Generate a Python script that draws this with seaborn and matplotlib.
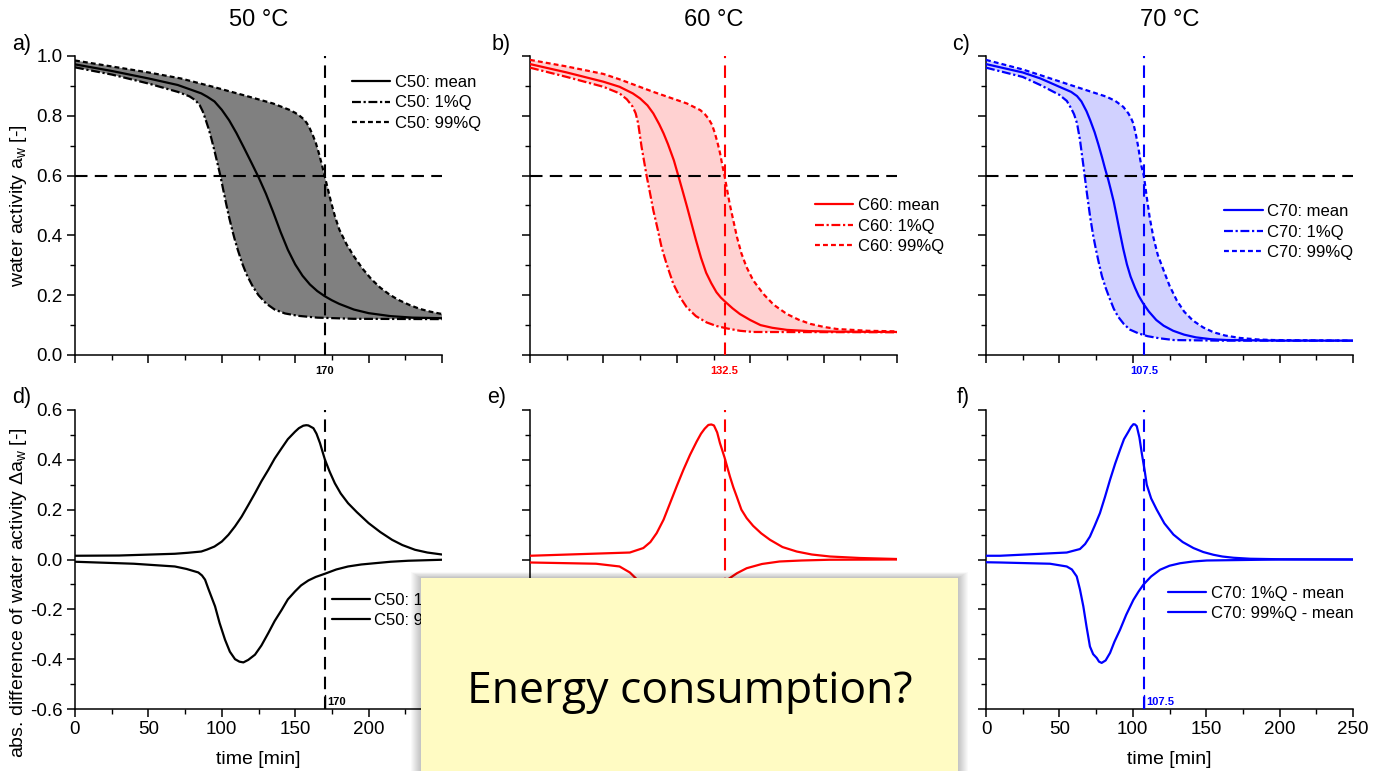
import numpy as np
import matplotlib
matplotlib.use("Agg")
import matplotlib.pyplot as plt
from matplotlib.ticker import MultipleLocator, NullFormatter
from matplotlib.patches import Rectangle
from matplotlib.lines import Line2D
import seaborn as sns

# ---------------- water activity, 50 °C ----------------
t50_mean = [0, 25, 50, 70, 86, 90, 95, 100, 105, 110, 115, 120, 125, 130, 135, 140, 145, 150, 155, 160, 165, 170, 175, 180, 190, 200, 215, 230, 250]
a50_mean = [0.972, 0.950, 0.925, 0.903, 0.875, 0.864, 0.848, 0.820, 0.785, 0.742, 0.694, 0.645, 0.595, 0.540, 0.478, 0.412, 0.352, 0.303, 0.265, 0.236, 0.214, 0.197, 0.183, 0.171, 0.152, 0.140, 0.130, 0.125, 0.123]
t50_q01 = [0, 25, 50, 70, 78, 82, 85, 87, 89, 91, 93, 95, 97, 99, 101, 103, 105, 107, 109, 111, 114, 117, 121, 125, 130, 136, 143, 152, 165, 190, 250]
a50_q01 = [0.962, 0.938, 0.908, 0.880, 0.865, 0.852, 0.835, 0.815, 0.787, 0.757, 0.722, 0.683, 0.642, 0.600, 0.552, 0.505, 0.460, 0.420, 0.383, 0.350, 0.305, 0.268, 0.230, 0.200, 0.173, 0.152, 0.139, 0.131, 0.125, 0.121, 0.120]
t50_q99 = [0, 25, 50, 72, 94, 117, 135, 146, 150, 153, 156, 158, 160, 162, 164, 166, 168, 170, 172, 174.5, 177, 180, 185, 190, 196, 202, 208, 214, 220, 228, 235, 242, 250]
a50_q99 = [0.985, 0.965, 0.945, 0.925, 0.897, 0.866, 0.841, 0.820, 0.810, 0.800, 0.788, 0.775, 0.757, 0.735, 0.710, 0.677, 0.640, 0.600, 0.560, 0.510, 0.465, 0.420, 0.370, 0.330, 0.288, 0.253, 0.225, 0.203, 0.185, 0.167, 0.154, 0.145, 0.137]

# ---------------- water activity, 60 °C ----------------
t60_mean = [0, 25, 50, 61, 70, 75, 80, 84, 88, 91, 94, 98, 101, 104, 107, 110, 113, 116.5, 120, 123.5, 127, 130, 133, 138, 143, 150, 157, 165, 175, 190, 210, 250]
a60_mean = [0.973, 0.945, 0.914, 0.897, 0.875, 0.858, 0.835, 0.808, 0.772, 0.741, 0.705, 0.651, 0.600, 0.548, 0.495, 0.440, 0.385, 0.325, 0.275, 0.240, 0.210, 0.192, 0.178, 0.156, 0.137, 0.117, 0.100, 0.091, 0.084, 0.080, 0.078, 0.077]
t60_q01 = [0, 25, 50, 61, 66, 70, 72, 73.7, 76, 78, 79.4, 81.5, 84, 87, 89.6, 93, 97.6, 102, 106.7, 113, 120.3, 127, 134, 143, 152, 250]
a60_q01 = [0.961, 0.930, 0.897, 0.875, 0.855, 0.830, 0.808, 0.774, 0.696, 0.640, 0.600, 0.548, 0.484, 0.420, 0.361, 0.305, 0.238, 0.195, 0.160, 0.130, 0.109, 0.097, 0.089, 0.081, 0.077, 0.076]
t60_q99 = [0, 25, 50, 61, 84, 107, 116, 119, 121.5, 124, 126, 128, 129.5, 131, 132.5, 134, 136, 138.5, 141, 144, 147.5, 152, 159, 166, 175, 183, 191, 200, 209, 230, 250]
a60_q99 = [0.987, 0.965, 0.940, 0.922, 0.880, 0.841, 0.819, 0.806, 0.791, 0.770, 0.741, 0.705, 0.674, 0.635, 0.600, 0.560, 0.506, 0.450, 0.394, 0.340, 0.294, 0.250, 0.204, 0.168, 0.137, 0.118, 0.104, 0.094, 0.087, 0.081, 0.079]

# ---------------- water activity, 70 °C ----------------
t70_mean = [0, 25, 37, 50, 58, 62, 65, 68.5, 71, 74, 76.5, 79, 81, 83.3, 85, 87, 89, 91, 93.5, 96, 98.5, 101.5, 104, 107, 111, 116, 121, 127.5, 135, 143, 153, 164, 200, 250]
a70_mean = [0.973, 0.945, 0.925, 0.897, 0.880, 0.866, 0.848, 0.815, 0.785, 0.745, 0.705, 0.662, 0.625, 0.586, 0.553, 0.513, 0.465, 0.415, 0.355, 0.303, 0.262, 0.225, 0.198, 0.173, 0.145, 0.117, 0.098, 0.081, 0.068, 0.059, 0.053, 0.050, 0.048, 0.048]
t70_q01 = [0, 25, 37, 50, 55, 58, 60, 62, 64, 66.3, 68.5, 71, 73, 75, 77, 79, 81.5, 84, 87, 90, 94, 98, 104, 110, 118, 128, 160, 250]
a70_q01 = [0.961, 0.930, 0.903, 0.870, 0.850, 0.825, 0.805, 0.775, 0.720, 0.635, 0.550, 0.460, 0.400, 0.350, 0.305, 0.263, 0.225, 0.192, 0.155, 0.128, 0.103, 0.085, 0.072, 0.063, 0.056, 0.050, 0.048, 0.048]
t70_q99 = [0, 25, 37, 60, 82, 88, 93.5, 97, 99, 100.4, 102, 103.7, 105, 106, 107.5, 108.5, 109.5, 111.5, 114, 117, 121, 125, 130, 135, 141, 148, 155, 163, 173, 185, 196, 250]
a70_q99 = [0.987, 0.955, 0.936, 0.899, 0.864, 0.850, 0.830, 0.808, 0.790, 0.774, 0.740, 0.696, 0.655, 0.629, 0.600, 0.565, 0.528, 0.460, 0.394, 0.335, 0.283, 0.232, 0.182, 0.145, 0.115, 0.092, 0.076, 0.065, 0.057, 0.052, 0.050, 0.048]

# ---------------- differences to the mean ----------------
td50_q99 = [0, 30, 68, 77, 86, 90, 95, 100, 104.5, 109, 113.5, 118, 122.6, 127, 131.7, 136, 140.8, 145, 149.9, 152.5, 155.5, 157.5, 159, 162.4, 164.5, 166.9, 168.5, 170.3, 173.5, 177, 181, 186, 192, 200, 208, 216, 223, 231.6, 240, 250]
d50_q99 = [0.015, 0.016, 0.023, 0.027, 0.032, 0.040, 0.052, 0.072, 0.099, 0.133, 0.172, 0.218, 0.266, 0.314, 0.360, 0.405, 0.447, 0.483, 0.513, 0.527, 0.537, 0.539, 0.538, 0.527, 0.505, 0.467, 0.435, 0.400, 0.352, 0.306, 0.265, 0.226, 0.190, 0.146, 0.110, 0.079, 0.058, 0.039, 0.028, 0.020]
td50_q01 = [0, 40, 68, 76, 84, 86.5, 88.6, 91, 95.4, 98.5, 102.2, 105.5, 109, 112, 114.7, 118, 122.6, 127, 131.7, 136, 140.8, 145, 149.9, 154, 159, 164, 170.3, 178, 186, 195, 204, 215, 227, 250]
d50_q01 = [-0.009, -0.017, -0.028, -0.038, -0.052, -0.064, -0.081, -0.120, -0.188, -0.255, -0.322, -0.370, -0.400, -0.410, -0.413, -0.403, -0.382, -0.345, -0.295, -0.247, -0.202, -0.160, -0.128, -0.104, -0.084, -0.070, -0.057, -0.040, -0.028, -0.020, -0.015, -0.009, -0.005, -0.001]

td60_q99 = [0, 68, 77.2, 82, 86.3, 91, 95.4, 100, 104.5, 109, 113.5, 116.5, 119, 121.5, 123.5, 125.3, 127.5, 129.4, 132.5, 136.2, 138.5, 140.8, 144, 147.6, 152, 157.5, 163.5, 172, 181.7, 192, 204.4, 225, 250]
d60_q99 = [0.015, 0.028, 0.046, 0.070, 0.106, 0.160, 0.226, 0.295, 0.360, 0.420, 0.473, 0.505, 0.525, 0.540, 0.542, 0.538, 0.510, 0.467, 0.410, 0.333, 0.290, 0.253, 0.200, 0.166, 0.135, 0.105, 0.079, 0.050, 0.032, 0.020, 0.012, 0.006, 0.002]
td60_q01 = [0, 45, 61, 68, 72.7, 74, 76, 78, 80, 82, 84, 87, 90, 93, 96, 98.5, 101, 104, 107, 110, 113.5, 117, 120, 123.5, 127, 131, 135, 141, 147.6, 158, 170, 185, 204, 250]
d60_q01 = [-0.012, -0.017, -0.028, -0.052, -0.079, -0.100, -0.140, -0.190, -0.240, -0.285, -0.320, -0.360, -0.385, -0.402, -0.410, -0.408, -0.395, -0.370, -0.335, -0.295, -0.250, -0.205, -0.165, -0.135, -0.110, -0.092, -0.079, -0.055, -0.035, -0.018, -0.008, -0.004, -0.001, 0.0]

td70_q99 = [0, 9.5, 55, 64, 67.5, 70.8, 74, 77.6, 81, 84.5, 88, 91.3, 94, 97, 98.8, 100.4, 101.5, 102.7, 104.5, 106.1, 108, 109.5, 112.5, 116.3, 121.5, 127.7, 134, 141.3, 148, 154.9, 161, 168.6, 180, 200, 250]
d70_q99 = [0.015, 0.015, 0.028, 0.042, 0.062, 0.092, 0.135, 0.186, 0.250, 0.320, 0.385, 0.440, 0.483, 0.513, 0.532, 0.543, 0.542, 0.535, 0.490, 0.427, 0.360, 0.300, 0.245, 0.200, 0.145, 0.100, 0.070, 0.046, 0.030, 0.019, 0.012, 0.007, 0.003, 0.001, 0.0]
td70_q01 = [0, 9.5, 43.6, 55, 58.5, 61.8, 64, 66.3, 68.5, 70.8, 73, 75.4, 77, 78.8, 81.5, 84.5, 87.5, 91.3, 95.5, 100.4, 104, 107.2, 112.5, 118.6, 125, 132.2, 141, 150.4, 200, 250]
d70_q01 = [-0.011, -0.012, -0.017, -0.028, -0.040, -0.068, -0.120, -0.188, -0.270, -0.349, -0.380, -0.395, -0.410, -0.415, -0.405, -0.375, -0.330, -0.282, -0.222, -0.162, -0.128, -0.101, -0.068, -0.041, -0.025, -0.015, -0.008, -0.004, 0.0, 0.0]

temps = [50, 60, 70]
t_marker = [170, 132.5, 107.5]
marker_txt = ["170", "132.5", "107.5"]
aw_threshold = 0.6

colors = ["#000000", "#ff0000", "#0000ff"]
fills = ["#808080", (1.0, 0.0, 0.0, 0.18), (0.0, 0.0, 1.0, 0.18)]

top_series = [
    ((t50_mean, a50_mean), (t50_q01, a50_q01), (t50_q99, a50_q99)),
    ((t60_mean, a60_mean), (t60_q01, a60_q01), (t60_q99, a60_q99)),
    ((t70_mean, a70_mean), (t70_q01, a70_q01), (t70_q99, a70_q99)),
]
bottom_series = [
    ((td50_q01, d50_q01), (td50_q99, d50_q99)),
    ((td60_q01, d60_q01), (td60_q99, d60_q99)),
    ((td70_q01, d70_q01), (td70_q99, d70_q99)),
]

sns.set_style("ticks")
plt.rcParams["font.family"] = ["Liberation Sans", "DejaVu Sans"]
plt.rcParams["mathtext.fontset"] = "custom"
plt.rcParams["mathtext.rm"] = "Liberation Sans"
plt.rcParams["mathtext.it"] = "Liberation Sans"
plt.rcParams["axes.linewidth"] = 1.1
plt.rcParams["axes.unicode_minus"] = False
for key in ["text.color", "axes.labelcolor", "xtick.color", "ytick.color", "axes.edgecolor"]:
    plt.rcParams[key] = "black"

W, H = 1373, 771
fig = plt.figure(figsize=(W / 100, H / 100), dpi=100)

lefts = [75, 530, 986]
AW, AH = 367, 299


def make_axes(left_px, top_px):
    return fig.add_axes([left_px / W, 1 - (top_px + AH) / H, AW / W, AH / H])


LS_MEAN = "-"
LS_Q01 = (0, (4.0, 1.2, 1.0, 1.2))
LS_Q99 = (0, (2.2, 1.4))
LS_REF = (0, (6.0, 3.5))
LW = 1.6


def style_axes(ax, ylim, ymaj, ymin, show_ylabels, show_xlabels):
    sns.despine(ax=ax)
    ax.set_xlim(0, 250)
    ax.set_ylim(*ylim)
    ax.xaxis.set_major_locator(MultipleLocator(50))
    ax.xaxis.set_minor_locator(MultipleLocator(25))
    ax.yaxis.set_major_locator(MultipleLocator(ymaj))
    ax.yaxis.set_minor_locator(MultipleLocator(ymin))
    ax.tick_params(which="major", direction="out", length=6, width=1.1,
                   labelsize=13.5, pad=3, color="black")
    ax.tick_params(which="minor", direction="out", length=3.5, width=1.0, color="black")
    if not show_ylabels:
        ax.yaxis.set_major_formatter(NullFormatter())
    if not show_xlabels:
        ax.xaxis.set_major_formatter(NullFormatter())
    ax.set_xlabel("")
    ax.set_ylabel("")


titles = ["50 °C", "60 °C", "70 °C"]
letters_top = ["a)", "b)", "c)"]
letters_bot = ["d)", "e)", "f)"]
letter_x_top = [12, 492, 952]
letter_x_bot = [12, 487, 957]
leg_top_pos = [(0.755, 0.937), (0.777, 0.525), (0.649, 0.505)]
leg_bot_pos = [(0.700, 0.389), (0.600, 0.389), (0.496, 0.412)]
LEG_KW = dict(loc="upper left", frameon=False, fontsize=12, handlelength=2.3,
              handletextpad=0.25, labelspacing=0.33, borderpad=0, borderaxespad=0)

for i, T in enumerate(temps):
    c = colors[i]
    (tm, am), (tlo, alo), (thi, ahi) = top_series[i]

    # ---- top row: water activity ----
    ax = make_axes(lefts[i], 56)
    poly_t = np.r_[np.asarray(thi, float), np.asarray(tlo, float)[::-1]]
    poly_a = np.r_[np.asarray(ahi, float), np.asarray(alo, float)[::-1]]
    ax.fill(poly_t, poly_a, color=fills[i], lw=0, zorder=1)
    for (tt, aa, ls) in [(tlo, alo, LS_Q01), (thi, ahi, LS_Q99), (tm, am, LS_MEAN)]:
        sns.lineplot(x=tt, y=aa, ax=ax, color=c, linewidth=LW, sort=False,
                     errorbar=None, zorder=3)
        ax.lines[-1].set_linestyle(ls)
    ax.axhline(aw_threshold, color="black", lw=1.5, ls=LS_REF, zorder=4)
    ax.axvline(t_marker[i], color=c, lw=1.5, ls=LS_REF, zorder=4)
    style_axes(ax, (0, 1.0), 0.2, 0.1, i == 0, False)
    if i == 0:
        ax.set_ylabel("water activity a$_\\mathregular{w}$ [-]", fontsize=14)
        ax.yaxis.set_label_coords(-0.125, 0.5)
    ax.text(t_marker[i], -0.052, marker_txt[i], color=c, fontsize=8, fontweight="bold",
            ha="center", va="center", clip_on=False)
    ax.text(0.5, 1.12, titles[i], transform=ax.transAxes, ha="center", va="center", fontsize=17)
    ax.text((letter_x_top[i] - lefts[i]) / AW, 1.04, letters_top[i], transform=ax.transAxes,
            ha="left", va="center", fontsize=15.5)
    handles = [Line2D([], [], color=c, lw=LW, ls=LS_MEAN),
               Line2D([], [], color=c, lw=LW, ls=LS_Q01),
               Line2D([], [], color=c, lw=LW, ls=LS_Q99)]
    labels = [f"C{T}: mean", f"C{T}: 1%Q", f"C{T}: 99%Q"]
    ax.legend(handles, labels, bbox_to_anchor=leg_top_pos[i], **LEG_KW)

    # ---- bottom row: difference to the mean ----
    axb = make_axes(lefts[i], 410)
    (td_lo, d_lo), (td_hi, d_hi) = bottom_series[i]
    sns.lineplot(x=td_lo, y=d_lo, ax=axb, color=c, linewidth=LW, sort=False, errorbar=None, zorder=3)
    sns.lineplot(x=td_hi, y=d_hi, ax=axb, color=c, linewidth=LW, sort=False, errorbar=None, zorder=3)
    axb.axvline(t_marker[i], color=c, lw=1.5, ls=LS_REF, zorder=4)
    style_axes(axb, (-0.6, 0.6), 0.2, 0.1, i == 0, True)
    if i == 0:
        axb.set_ylabel("abs. difference of water activity \u0394a$_\\mathregular{w}$ [-]", fontsize=14)
        axb.yaxis.set_label_coords(-0.125, 0.39)
    axb.set_xlabel("time [min]", fontsize=14)
    axb.xaxis.set_label_coords(0.5, -0.142)
    axb.plot([t_marker[i], t_marker[i]], [-0.6, -0.545], color=c, lw=1.0, zorder=4)
    axb.text(t_marker[i] + 1.5, -0.57, marker_txt[i], color=c, fontsize=8, fontweight="bold",
             ha="left", va="center")
    axb.text((letter_x_bot[i] - lefts[i]) / AW, 1.043, letters_bot[i], transform=axb.transAxes,
             ha="left", va="center", fontsize=15.5)
    hb = [Line2D([], [], color=c, lw=LW), Line2D([], [], color=c, lw=LW)]
    lb = [f"C{T}: 1%Q - mean", f"C{T}: 99%Q - mean"]
    axb.legend(hb, lb, bbox_to_anchor=leg_bot_pos[i], **LEG_KW)

# ---- sticky note on top of the panels ----
nx0, nx1, ny0 = 421, 958, 578
for k in range(10, 0, -1):
    fig.add_artist(Rectangle(((nx0 - k) / W, 0), (nx1 - nx0 + 2 * k) / W, (H - ny0 + k * 0.6) / H,
                             transform=fig.transFigure, facecolor="black",
                             edgecolor="none", alpha=0.022, zorder=19))
fig.add_artist(Rectangle((nx0 / W, 0), (nx1 - nx0) / W, (H - ny0) / H,
                         transform=fig.transFigure, facecolor="#fffbc3",
                         edgecolor="none", zorder=20))
fig.text((nx0 + nx1) / 2 / W, 1 - 692 / H, "Energy consumption?",
         family=["Open Sans", "DejaVu Sans"], fontsize=32, color="black",
         ha="center", va="center", zorder=21)

fig.savefig("out.png", dpi=100)
